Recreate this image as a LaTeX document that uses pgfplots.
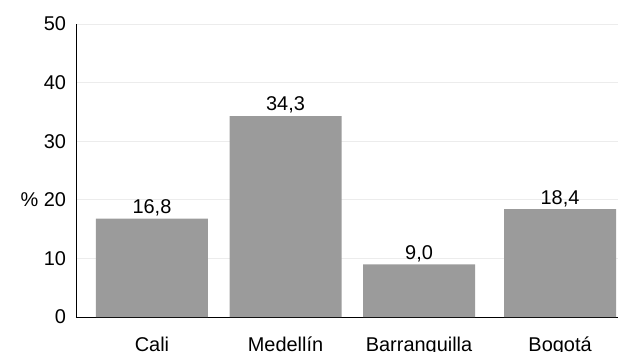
\documentclass[border=0pt]{standalone}
\usepackage{fontspec}
\setmainfont{Liberation Sans}
\usepackage{pgfplots}
\pgfplotsset{compat=1.18}
\definecolor{barfill}{RGB}{155,155,155}
\definecolor{gridc}{RGB}{236,236,236}
\begin{document}
\begin{tikzpicture}[font=\fontsize{20}{24}\selectfont]
\begin{axis}[
  scale only axis, width=542bp, height=293bp,
  xmin=-0.569, xmax=3.49, ymin=0, ymax=50,
  axis lines*=left,
  axis line style={black, line width=0.9bp},
  ytick={0,10,...,50},
  yticklabels={0,10,\%\ 20,30,40,50},
  ymajorgrids, grid style={gridc, line width=0.9bp},
  major tick length=0pt,
  xtick={0,1,2,3.056},
  xticklabels={Cali,Medellín,Barranquilla,Bogotá},
  xticklabel style={anchor=base, yshift=-34bp},
  yticklabel style={anchor=east, xshift=-6.5bp},
  ybar, bar width=112bp,
  nodes near coords, point meta=y,
  every node near coord/.append style={text depth=0pt, yshift=1.5bp,
    /pgf/number format/.cd, fixed, fixed zerofill, precision=1, use comma, assume math mode=true},
]
\addplot[fill=barfill, draw=none] coordinates {(0,16.8) (1,34.3) (2,9.0) (3.056,18.4)};
\end{axis}
\pgfresetboundingbox
\path[use as bounding box] (-76bp,-35bp) rectangle (542bp,317bp);
\end{tikzpicture}
\end{document}
